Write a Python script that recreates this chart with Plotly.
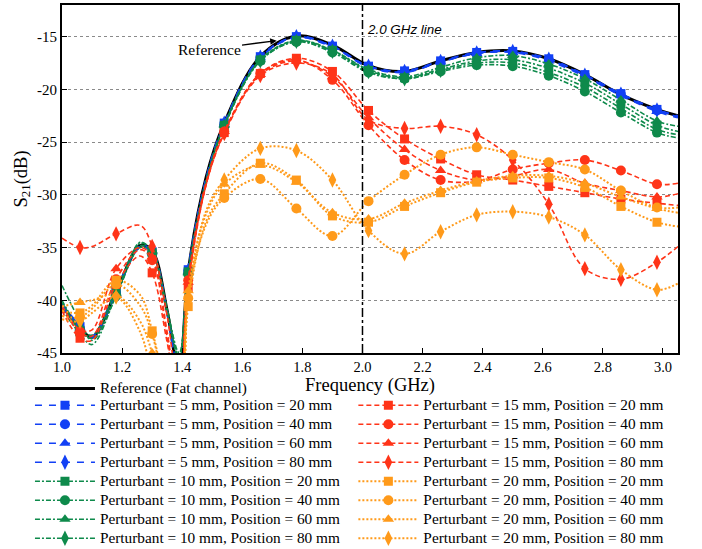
import plotly.graph_objects as go

# ---------------- data ----------------
freq_line = [1.00, 1.06, 1.10, 1.18, 1.26, 1.30, 1.35, 1.39, 1.42, 1.48, 1.54, 1.66,
             1.78, 1.90, 2.02, 2.14, 2.26, 2.38, 2.50, 2.62, 2.74, 2.86, 2.98, 3.05]
marker_freq = [1.06, 1.18, 1.30, 1.42, 1.54, 1.66, 1.78, 1.90, 2.02, 2.14, 2.26,
               2.38, 2.50, 2.62, 2.74, 2.86, 2.98]

reference = [-40.5, -42.6, -43.5, -39.2, -34.8, -35.3, -41.0, -47.0, -37.3, -28.3, -23.2, -16.9,
             -14.95, -15.8, -17.75, -18.3, -17.3, -16.5, -16.35, -17.1, -18.6, -20.5, -21.9, -22.5]

p5_20 = [-40.4, -42.5, -43.4, -39.0, -34.9, -35.4, -41.2, -47.0, -37.1, -28.4, -23.2, -16.9,
         -15.0, -15.9, -17.8, -18.25, -17.3, -16.5, -16.4, -17.1, -18.6, -20.4, -21.9, -22.5]
p5_40 = [-40.6, -42.7, -43.5, -39.3, -34.9, -35.5, -41.3, -47.2, -37.2, -28.5, -23.3, -17.0,
         -15.05, -15.95, -17.85, -18.35, -17.4, -16.6, -16.45, -17.2, -18.7, -20.5, -22.0, -22.6]
p5_60 = [-40.5, -42.6, -43.6, -39.4, -35.0, -35.4, -41.1, -47.1, -37.3, -28.5, -23.3, -17.0,
         -15.1, -16.0, -17.9, -18.4, -17.4, -16.6, -16.5, -17.3, -18.8, -20.6, -22.1, -22.7]
p5_80 = [-40.3, -42.4, -43.4, -39.1, -34.8, -35.3, -41.0, -46.9, -37.2, -28.4, -23.2, -16.95,
         -15.0, -15.9, -17.8, -18.3, -17.35, -16.55, -16.4, -17.15, -18.65, -20.45, -21.95, -22.55]

p10_20 = [-40.2, -42.9, -43.6, -39.0, -34.8, -35.5, -41.0, -45.8, -37.3, -28.7, -23.4, -17.2,
          -15.35, -16.3, -18.2, -18.9, -18.1, -17.3, -17.2, -18.0, -19.4, -21.4, -23.4, -24.0]
p10_40 = [-40.8, -43.2, -44.2, -39.6, -35.0, -35.6, -41.2, -45.5, -37.5, -28.8, -23.5, -17.3,
          -15.5, -16.5, -18.4, -19.0, -18.3, -17.7, -17.8, -18.7, -20.2, -22.2, -24.1, -24.6]
p10_60 = [-40.0, -42.7, -43.3, -39.3, -34.6, -35.3, -40.8, -45.5, -37.4, -28.6, -23.4, -17.2,
          -15.4, -16.3, -18.1, -18.8, -17.9, -17.0, -16.8, -17.6, -19.0, -21.0, -23.0, -23.5]
p10_80 = [-38.6, -42.0, -43.8, -39.6, -34.5, -35.4, -41.0, -45.0, -37.6, -28.8, -23.5, -17.3,
          -15.45, -16.4, -18.3, -19.0, -18.2, -17.5, -17.5, -18.4, -19.8, -21.8, -23.8, -24.3]

p15_20 = [-41.0, -43.6, -43.8, -38.5, -35.8, -37.4, -44.0, -50.0, -38.8, -29.0, -24.1, -18.5,
          -17.05, -18.3, -22.0, -24.7, -26.6, -28.1, -28.6, -29.2, -29.8, -30.4, -30.8, -31.0]
p15_40 = [-40.8, -43.0, -43.4, -38.0, -35.2, -36.2, -43.5, -50.0, -38.1, -28.8, -24.0, -18.5,
          -17.2, -19.1, -23.4, -26.7, -28.6, -28.7, -27.6, -27.0, -26.7, -27.7, -29.0, -28.9]
p15_60 = [-40.5, -42.8, -42.8, -37.0, -35.0, -35.9, -43.0, -50.0, -38.3, -28.9, -24.0, -18.6,
          -17.3, -18.8, -22.7, -25.7, -27.7, -28.6, -28.2, -27.6, -28.9, -29.6, -30.2, -29.9]
p15_80 = [-34.1, -35.0, -34.9, -33.7, -32.9, -34.9, -41.5, -49.0, -38.5, -29.0, -24.2, -18.7,
          -17.5, -18.6, -22.9, -23.7, -23.5, -24.3, -26.7, -30.9, -37.0, -38.0, -36.4, -34.9]

p20_20 = [-41.0, -41.2, -40.5, -38.1, -39.5, -42.9, -49.0, -52.0, -40.6, -32.5, -29.9, -27.0,
          -28.6, -32.0, -32.6, -31.1, -29.8, -28.8, -28.4, -28.4, -29.3, -31.1, -32.6, -33.0]
p20_40 = [-41.5, -41.6, -40.8, -38.5, -40.5, -43.2, -49.5, -52.0, -39.8, -32.8, -30.3, -28.5,
          -31.3, -33.9, -30.6, -28.1, -26.2, -25.5, -26.2, -26.9, -27.6, -29.6, -31.2, -31.2]
p20_60 = [-40.6, -40.2, -40.0, -39.5, -42.0, -45.0, -50.5, -52.0, -39.1, -31.8, -29.0, -27.2,
          -28.8, -31.7, -32.3, -30.8, -29.6, -28.7, -28.2, -28.2, -28.9, -30.2, -31.3, -31.7]
p20_80 = [-41.8, -42.0, -41.2, -39.7, -43.0, -47.0, -51.0, -52.0, -39.8, -31.5, -28.6, -25.6,
          -25.8, -28.6, -33.4, -35.6, -33.5, -31.9, -31.6, -32.1, -33.8, -37.1, -39.0, -38.4]

x_ticks = [1.0, 1.2, 1.4, 1.6, 1.8, 2.0, 2.2, 2.4, 2.6, 2.8, 3.0]
x_tick_text = ["1.0", "1.2", "1.4", "1.6", "1.8", "2.0", "2.2", "2.4", "2.6", "2.8", "3.0"]
y_ticks = [-45, -40, -35, -30, -25, -20, -15]
y_tick_text = ["-45", "-40", "-35", "-30", "-25", "-20", "-15"]
line_freq = 2.0                 # the "2.0 GHz line"
ref_label_point = (1.7145, -15.38)

# ---------------- styles ----------------
SERIF = "Liberation Serif"
BLUE, GREEN, RED, ORANGE = "#1240F5", "#0E8A4B", "#FF3418", "#FF9A1A"
styles = {
    5: dict(color=BLUE, dash="7px,7px", width=1.6),
    10: dict(color=GREEN, dash="5px,2px,2px,2px", width=1.6),
    15: dict(color=RED, dash="5px,3px", width=1.6),
    20: dict(color=ORANGE, dash="2px,2px", width=2.0),
}
symbols = {20: ("square", 9), 40: ("circle", 10), 60: ("triangle-up", 10), 80: ("diamond-tall", 11)}

series = [
    (5, 20, p5_20), (5, 40, p5_40), (5, 60, p5_60), (5, 80, p5_80),
    (10, 20, p10_20), (10, 40, p10_40), (10, 60, p10_60), (10, 80, p10_80),
    (15, 20, p15_20), (15, 40, p15_40), (15, 60, p15_60), (15, 80, p15_80),
    (20, 20, p20_20), (20, 40, p20_40), (20, 60, p20_60), (20, 80, p20_80),
]

LEG_FS = 15.3


def leg_name(t):
    return '<span style="font-size:%spx">%s</span>' % (LEG_FS, t)


fig = go.Figure()

# reference line
fig.add_trace(go.Scatter(x=freq_line, y=reference, mode="lines",
                         line=dict(color="black", width=3, shape="spline"),
                         showlegend=False, hoverinfo="skip"))

mset = set(round(f, 2) for f in marker_freq)
for pert, pos, vals in series:
    st = styles[pert]
    sym, ms = symbols[pos]
    fig.add_trace(go.Scatter(x=freq_line, y=vals, mode="lines",
                             line=dict(color=st["color"], dash=st["dash"], width=st["width"], shape="spline"),
                             showlegend=False, hoverinfo="skip"))
    mx = [f for f in freq_line if round(f, 2) in mset]
    my = [v for f, v in zip(freq_line, vals) if round(f, 2) in mset]
    fig.add_trace(go.Scatter(x=mx, y=my, mode="markers",
                             marker=dict(symbol=sym, size=ms, color=st["color"], line=dict(width=0)),
                             showlegend=False, hoverinfo="skip"))

# legend-only entries
fig.add_trace(go.Scatter(x=[None], y=[None], mode="lines", line=dict(color="black", width=3),
                         name=leg_name("Reference (Fat channel)"), legend="legend3"))
for pert, pos, vals in series:
    st = styles[pert]
    sym, ms = symbols[pos]
    fig.add_trace(go.Scatter(x=[None], y=[None], mode="lines+markers",
                             line=dict(color=st["color"], dash=st["dash"], width=st["width"]),
                             marker=dict(symbol=sym, size=ms, color=st["color"]),
                             name=leg_name("Perturbant = %d mm, Position = %d mm" % (pert, pos)),
                             legend="legend" if pert <= 10 else "legend2"))

fig.add_shape(type="line", x0=line_freq, x1=line_freq, xref="x", y0=0, y1=1, yref="paper",
              line=dict(color="black", width=1.5, dash="dashdot"))

fig.add_annotation(x=line_freq, y=0.93, xref="x", yref="paper", text="<i>2.0 GHz line</i>", showarrow=False,
                   xanchor="left", yanchor="middle", xshift=3,
                   font=dict(family="Liberation Sans", size=13.4, color="black"))
fig.add_annotation(x=ref_label_point[0], y=ref_label_point[1], xref="x", yref="y", text="Reference",
                   showarrow=True, ax=-67.7, ay=8.6, arrowhead=2, arrowsize=1, arrowwidth=1.3,
                   arrowcolor="black", font=dict(family=SERIF, size=15.5, color="black"))

leg_common = dict(xanchor="left", yanchor="top", font=dict(family=SERIF, size=11, color="black"),
                  itemwidth=60, bgcolor="rgba(0,0,0,0)", tracegroupgap=0, traceorder="normal")

fig.update_layout(
    width=702, height=549, autosize=False,
    margin=dict(l=62, r=24, t=5, b=196, autoexpand=False),
    paper_bgcolor="white", plot_bgcolor="white",
    font=dict(family=SERIF, color="black"),
    hovermode=False,
    legend3=dict(x=-0.052, y=-0.0603, **leg_common),
    legend=dict(x=-0.052, y=-0.1086, **leg_common),
    legend2=dict(x=0.473, y=-0.1086, **leg_common),
    xaxis=dict(range=[1.0, 3.05], tickvals=x_ticks, ticktext=x_tick_text, ticks="inside", ticklen=5,
               tickcolor="black", showline=True, linecolor="black", linewidth=2, mirror=True,
               showgrid=False, zeroline=False, tickfont=dict(family=SERIF, size=14.5),
               title=dict(text="Frequency (GHz)", font=dict(family=SERIF, size=18.5), standoff=2)),
    yaxis=dict(range=[-45, -12], tickvals=y_ticks, ticktext=y_tick_text, ticks="inside", ticklen=5,
               tickcolor="black", showline=True, linecolor="black", linewidth=2, mirror=True,
               showgrid=True, gridcolor="#8a8a8a", gridwidth=1, griddash="dot", zeroline=False,
               tickfont=dict(family=SERIF, size=15),
               title=dict(text="S<sub>21</sub>(dB)", font=dict(family=SERIF, size=18.5), standoff=5)),
)

fig.write_html("out.html", config={"displayModeBar": False},
               post_script="document.body.style.margin='0px';document.body.style.overflow='hidden';")
